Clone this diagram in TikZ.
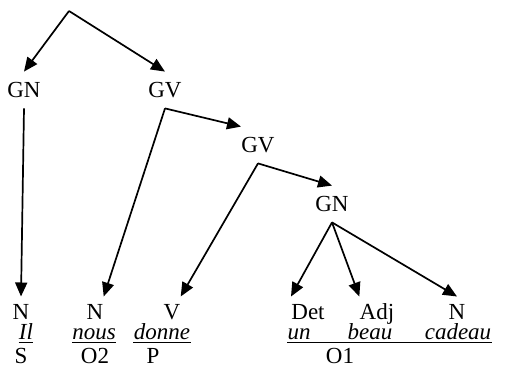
\documentclass[tikz,border=0pt]{standalone}
\usepackage{fontspec}
\setmainfont{Liberation Serif}
\usetikzlibrary{arrows.meta}
\tikzset{
  cat/.style={inner sep=0pt,text height=7.5pt,text depth=0pt,minimum height=18pt,font=\fontsize{11.5}{13}\selectfont},
  leaf/.style={inner sep=0pt,text height=7.5pt,text depth=0pt,outer ysep=4pt,font=\fontsize{11.5}{13}\selectfont},
  word/.style={inner sep=0pt,anchor=base,font=\fontsize{11.5}{13}\selectfont\itshape},
  role/.style={inner sep=0pt,anchor=base,font=\fontsize{11.5}{13}\selectfont},
  arr/.style={-{Triangle[length=7pt,width=6pt]},line width=0.85pt},
  uline/.style={line width=0.5pt}
}

\begin{document}
\begin{tikzpicture}[x=0.5pt,y=-0.5pt]
\path[use as bounding box] (0,0) rectangle (505,384);
% tree nodes
\coordinate (root) at (69,11);
\node[cat] (gn1) at (24,90) {GN};
\node[cat] (gv1) at (165,90) {GV};
\node[cat] (gv2) at (258,145) {GV};
\node[cat] (gn2) at (332,204) {GN};
% categories
\node[leaf] (n1) at (21,312) {N};
\node[leaf] (n2) at (95,312) {N};
\node[leaf] (v) at (172,312) {V};
\node[leaf] (det) at (308,312) {Det};
\node[leaf] (adj) at (377,312) {Adj};
\node[leaf] (n3) at (457,312) {N};
% words
\node[word] (il) at (26,340) {Il};
\node[word] (nous) at (94,340) {nous};
\node[word] (donne) at (162,340) {donne};
\node[word] (un) at (299,340) {un};
\node[word] (beau) at (370,340) {beau};
\node[word] (cadeau) at (458,340) {cadeau};
\draw[uline] ([yshift=-1.2pt]il.base west) -- ([yshift=-1.2pt]il.base east);
\draw[uline] ([yshift=-1.2pt]nous.base west) -- ([yshift=-1.2pt]nous.base east);
\draw[uline] ([yshift=-1.2pt]donne.base west) -- ([yshift=-1.2pt]donne.base east);
\draw[uline] ([yshift=-1.2pt]un.base west) -- ([yshift=-1.2pt]cadeau.base east);
% functions
\node[role] (s) at (21,364) {S};
\node[role] (o2) at (95,364) {O2};
\node[role] (p) at (153,364) {P};
\node[role] (o1) at (340,364) {O1};
% arrows
\draw[arr] (root) -- (gn1.north);
\draw[arr] (root) -- (gv1.north);
\draw[arr] (gn1.south) -- (n1.north);
\draw[arr] (gv1.south) -- (n2.north east);
\draw[arr] (gv1.south) -- (gv2.north west);
\draw[arr] (gv2.south) -- (v.north east);
\draw[arr] (gv2.south) -- (gn2.north);
\draw[arr] (gn2.south) -- (det.north west);
\draw[arr] (gn2.south) -- (adj.north west);
\draw[arr] (gn2.south) -- (n3.north);
\end{tikzpicture}
\end{document}
